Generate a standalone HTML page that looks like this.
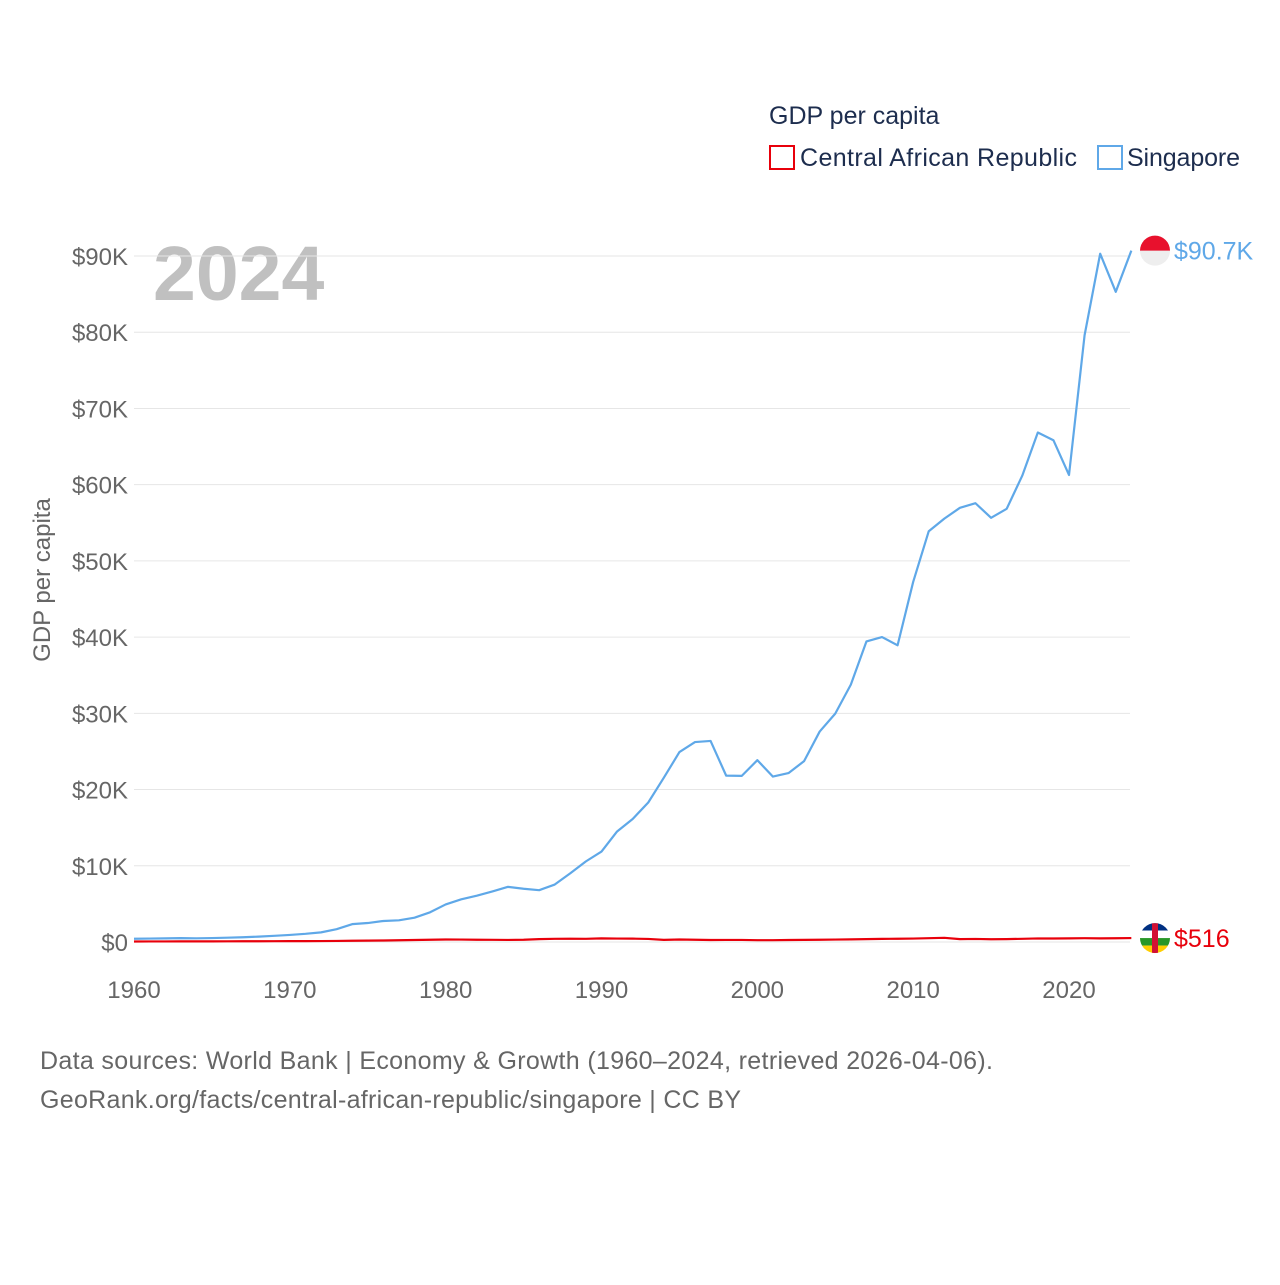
<!DOCTYPE html>
<html><head><meta charset="utf-8"><style>
body{margin:0;background:#fff;width:1280px;height:1280px;overflow:hidden;font-family:"Liberation Sans",sans-serif}
</style></head><body>
<svg id="chart" width="1280" height="1280" xmlns="http://www.w3.org/2000/svg" font-family="Liberation Sans, sans-serif">
<text x="769" y="124" font-size="25" fill="#1d2d4e">GDP per capita</text>
<g><rect x="770" y="146" width="24" height="23" fill="none" stroke="#e8000b" stroke-width="2"/><text x="800" y="166" font-size="25" fill="#1d2d4e" textLength="277">Central African Republic</text></g>
<g><rect x="1098" y="146" width="24" height="23" fill="none" stroke="#5fa8e8" stroke-width="2"/><text x="1127" y="166" font-size="25" fill="#1d2d4e" textLength="113">Singapore</text></g>
<text x="153" y="300" font-size="77" font-weight="bold" fill="#c0c0c0">2024</text>
<text transform="translate(50,580) rotate(-90)" text-anchor="middle" font-size="24" fill="#666">GDP per capita</text>
<g id="grid"></g><g id="lines"></g><g id="ends"></g>
<text x="40" y="1069" font-size="25" fill="#666" textLength="953">Data sources: World Bank | Economy &amp; Growth (1960–2024, retrieved 2026-04-06).</text>
<text x="40" y="1108" font-size="25" fill="#666" textLength="701">GeoRank.org/facts/central-african-republic/singapore | CC BY</text>
</svg>
<script>
const years=[];for(let y=1960;y<=2024;y++)years.push(y);
const singapore=[428,449,472,511,485,516,566,626,708,810,925,1071,1264,1685,2341,2489,2758,2846,3193,3900,4928,5596,6078,6633,7234,6987,6800,7539,9017,10577,11862,14502,16136,18302,21553,24915,26233,26376,21829,21796,23853,21700,22160,23730,27608,29961,33769,39432,40007,38927,47237,53891,55546,56967,57563,55647,56828,61176,66840,65831,61274,79601,90300,85300,90700];
const car=[70,72,75,78,80,85,90,95,100,105,110,115,125,140,160,180,200,230,260,300,330,320,300,290,270,300,380,420,430,420,480,450,440,400,280,330,300,260,270,270,240,240,260,280,300,320,340,380,410,430,450,500,550,380,400,360,380,420,470,460,480,500,480,490,516];
const yTicks=[0,10000,20000,30000,40000,50000,60000,70000,80000,90000];
const yTickLabels=["$0","$10K","$20K","$30K","$40K","$50K","$60K","$70K","$80K","$90K"];
const xTicks=[1960,1970,1980,1990,2000,2010,2020];
const NS="http://www.w3.org/2000/svg";
const xs=y=>134+(y-1960)*(1069-134)/60;
const ys=v=>942-v*(942-256)/90000;
function mk(t,a,p){const e=document.createElementNS(NS,t);for(const k in a)e.setAttribute(k,a[k]);p.appendChild(e);return e;}
const g=document.getElementById('grid');
yTicks.forEach((v,i)=>{
 const l=mk('line',{x1:134,x2:1130,y1:ys(v),y2:ys(v),stroke:'#e6e6e6','stroke-width':1},g);
 
 
 const t=mk('text',{x:128,y:ys(v)+9,'text-anchor':'end','font-size':24,fill:'#666'},g);t.textContent=yTickLabels[i];
 
 
});
xTicks.forEach(y=>{
 const t=mk('text',{x:xs(y),y:998,'text-anchor':'middle','font-size':24,fill:'#666'},g);t.textContent=y;
 
 
});
const L=document.getElementById('lines');
function line(data,color,name){
 const p=mk('polyline',{points:data.map((v,i)=>xs(years[i])+','+ys(v)).join(' '),fill:'none',stroke:color,'stroke-width':2.2,'stroke-linejoin':'round'},L);
 
 
}
line(singapore,'#5fa8e8','singapore-line');
line(car,'#e8000b','car-line');
const E=document.getElementById('ends');
const last=years.length-1;
let sy=ys(singapore[last]);
const sg=mk('g',{},E);


mk('circle',{cx:1155,cy:sy,r:15,fill:'#eee'},sg);
mk('path',{d:`M1140 ${sy} A15 15 0 0 1 1170 ${sy} Z`,fill:'#e8112d'},sg);
const sl=mk('text',{x:1174,y:sy+9,'font-size':25,fill:'#5fa8e8'},E);sl.textContent='$90.7K';


let cy=ys(car[last]);
const cg=mk('g',{},E);


mk('clipPath',{id:'cc'},cg);
mk('circle',{cx:1155,cy:cy,r:15},document.getElementById('cc'));
const cc=mk('g',{'clip-path':'url(#cc)'},cg);
[['#003082',0],['#fff',1],['#289728',2],['#ffce00',3]].forEach(([c,i])=>mk('rect',{x:1140,y:cy-15+i*7.5,width:30,height:7.5,fill:c},cc));
mk('rect',{x:1152,y:cy-15,width:6,height:30,fill:'#d21034'},cc);
const cl=mk('text',{x:1174,y:cy+9,'font-size':25,fill:'#e8000b'},E);cl.textContent='$516';


</script>
</body></html>
